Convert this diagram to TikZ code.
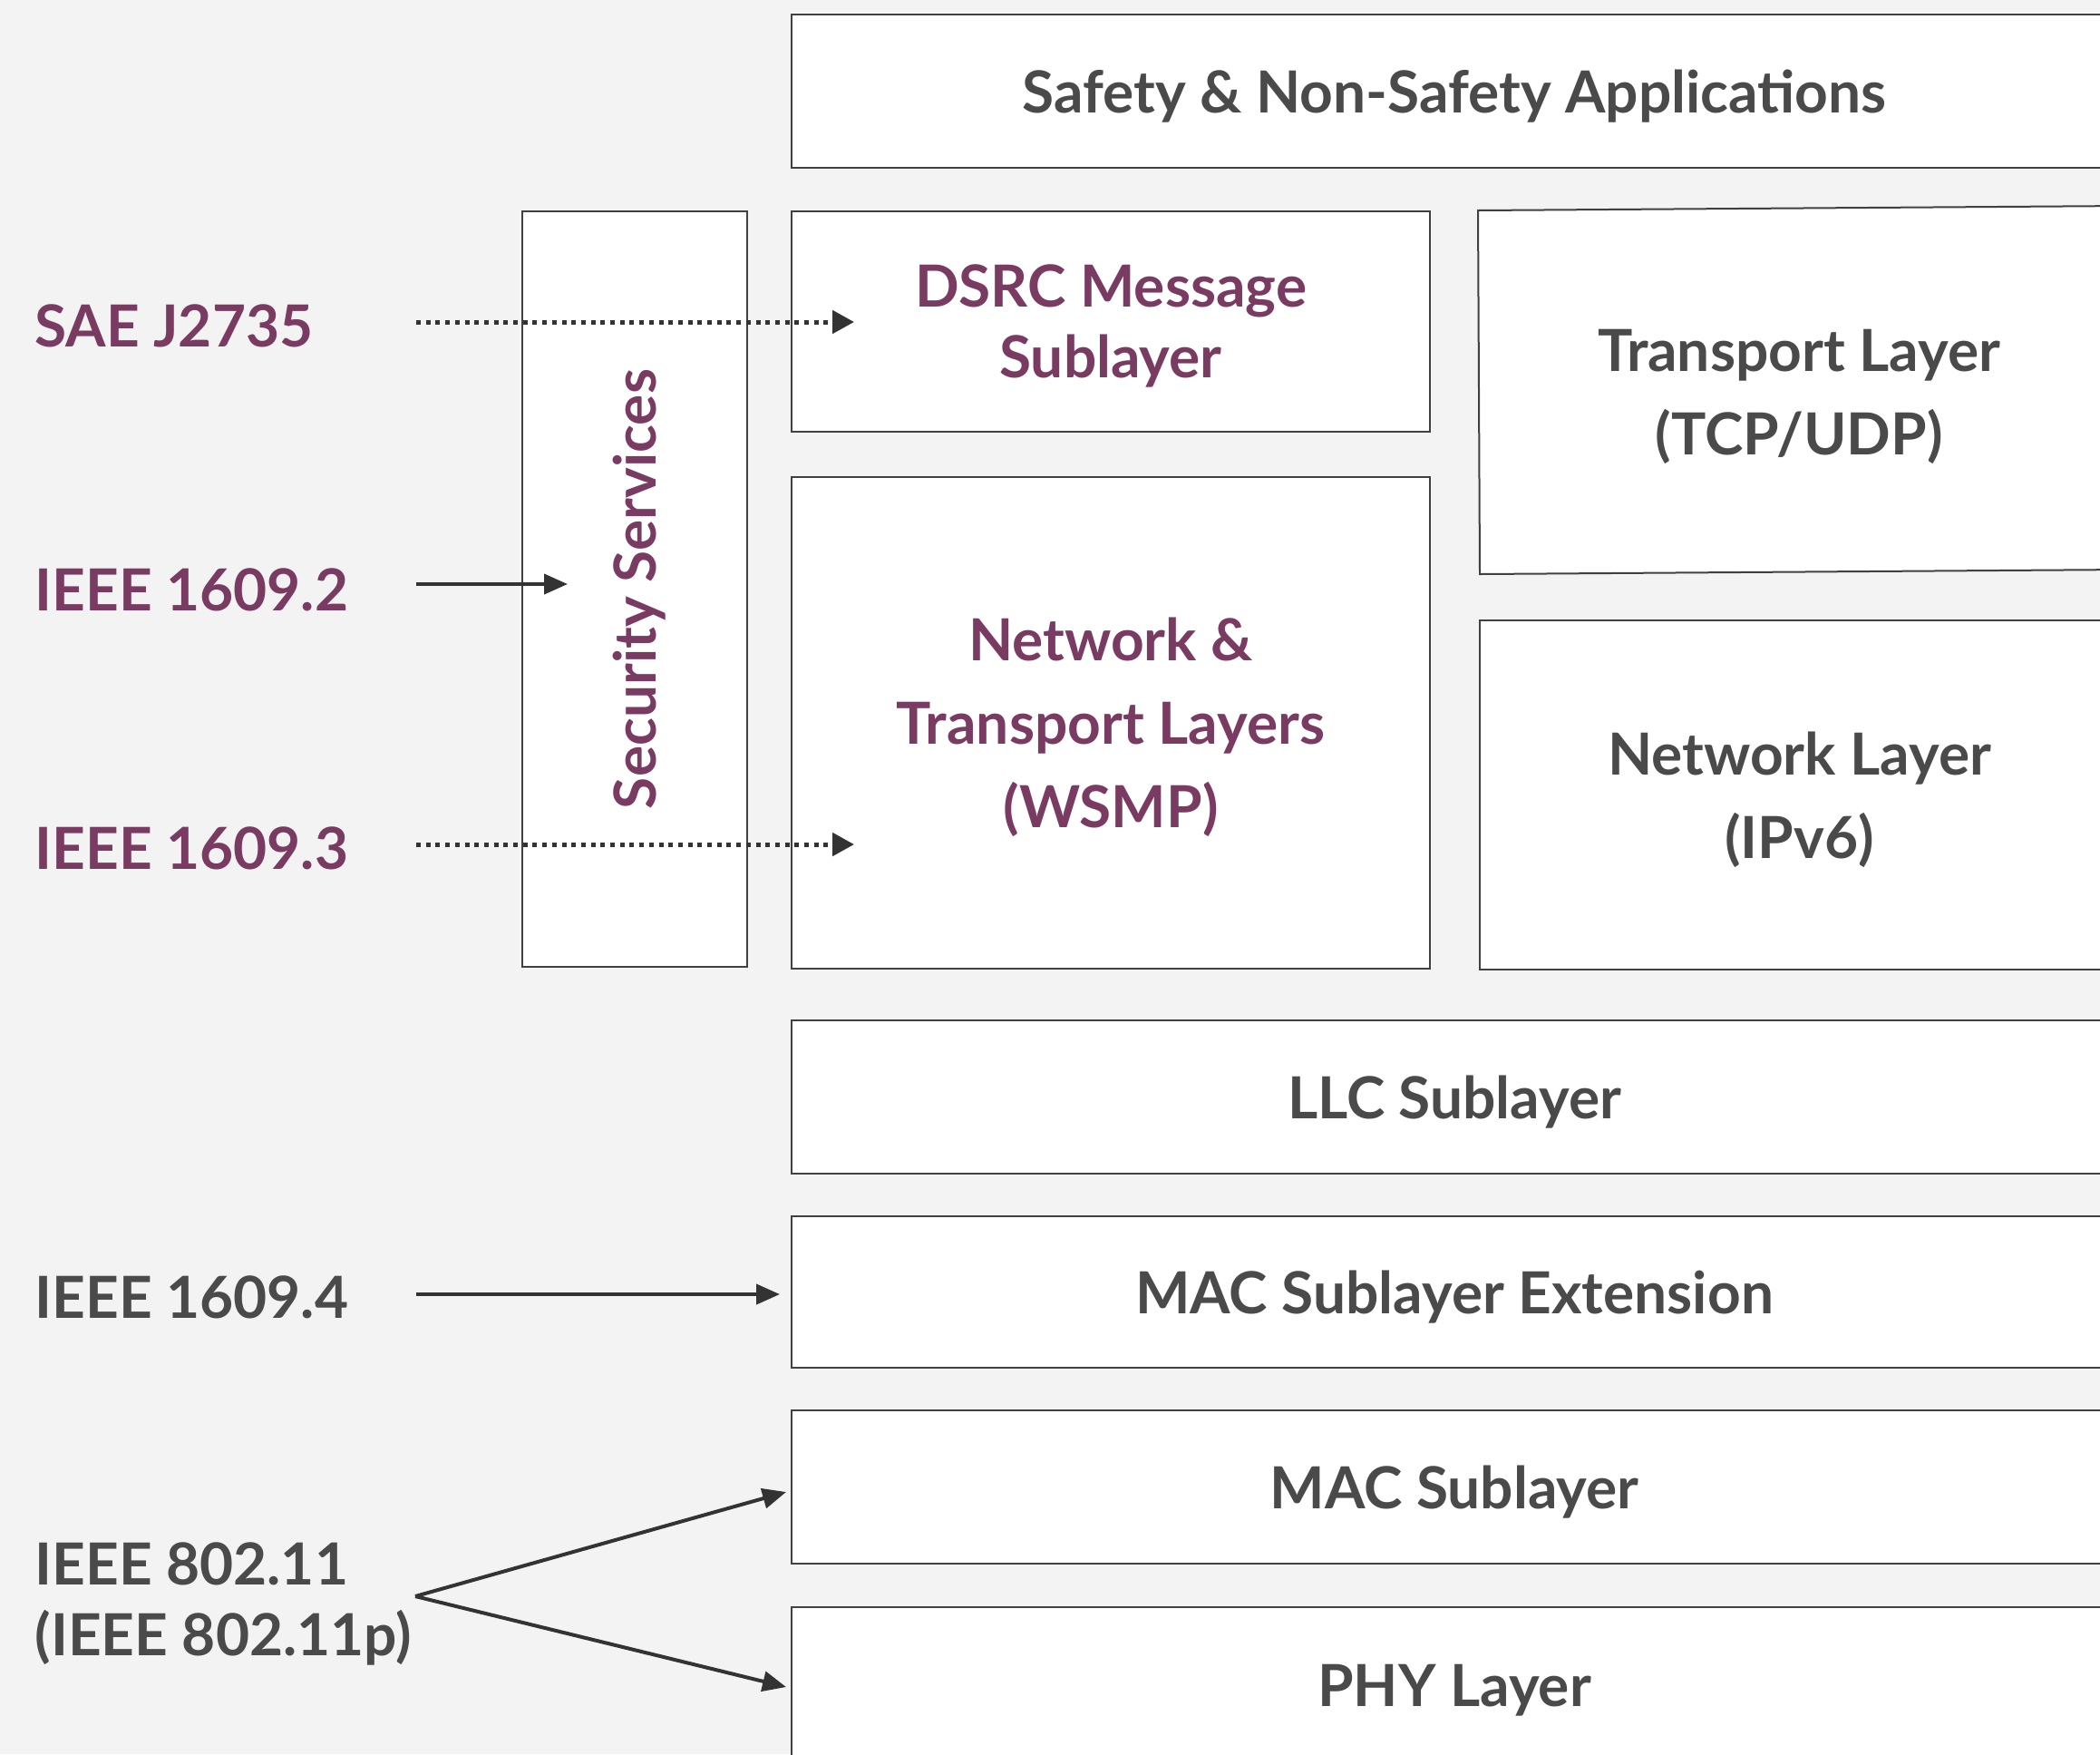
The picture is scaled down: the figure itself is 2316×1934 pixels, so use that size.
\documentclass[tikz,border=0pt]{standalone}
\usepackage{fontspec}
\setmainfont{Lato}
\usetikzlibrary{arrows.meta}
\definecolor{bgcol}{HTML}{F3F3F3}
\definecolor{linecol}{HTML}{404040}
\definecolor{txtgray}{HTML}{4A4A4A}
\definecolor{txtpurple}{HTML}{7A3B63}
\definecolor{arrowcol}{HTML}{333333}
\tikzset{
  layer/.style={draw=linecol, line width=1pt, fill=white, inner sep=0pt,
    text=txtgray, align=center, text depth=0pt,
    font=\fontsize{32}{46}\selectfont\bfseries},
  purpletext/.style={text=txtpurple},
  plain/.style={inner sep=0pt, text=txtgray, align=center, text depth=0pt,
    font=\fontsize{32}{46}\selectfont\bfseries},
  stdlabel/.style={inner sep=0pt, anchor=base west,
    font=\fontsize{32}{39}\selectfont\bfseries},
  solidarrow/.style={draw=arrowcol, line width=2pt,
    -{Triangle[length=13pt,width=11pt]}},
  dotarrow/.style={draw=arrowcol, line width=2.5pt,
    dash pattern=on 2.5pt off 2.85pt,
    -{Triangle[length=12pt,width=12.5pt]}}
}
\begin{document}
\begin{tikzpicture}[x=0.5pt,y=-0.5pt]
  % page and background
  \useasboundingbox (0,0) rectangle (2316,1934);
  \fill[bgcol] (0,0) rectangle (2316,1934);

  % protocol stack
  \node[layer, minimum width=731pt, minimum height=84.5pt] (app) at (1604,100.5)
    {Safety \& Non-Safety Applications};
  \node[layer, purpletext, rotate=90, minimum width=416.5pt, minimum height=124pt]
    (sec) at (700,649.5) {Security Services};
  \node[layer, purpletext, minimum width=352pt, minimum height=121.5pt,
    font=\fontsize{32}{39}\selectfont\bfseries] (dsrc) at (1225,354.5)
    {DSRC Message\\Sublayer};
  \node[layer, purpletext, minimum width=352pt, minimum height=271pt]
    (wsmp) at (1225,797) {Network \&\\Transport Layers\\(WSMP)};
  \filldraw[draw=linecol, fill=white, line width=1pt]
    (1630,232) -- (2345,227) -- (2345,628) -- (1632,633) -- cycle;
  \node[plain] (trans) at (1984,432) {Transport Layer\\(TCP/UDP)};
  \node[layer, minimum width=352.5pt, minimum height=192.5pt]
    (net) at (1984.5,876.5) {Network Layer\\(IPv6)};
  \node[layer, minimum width=731pt, minimum height=84.5pt] (llc) at (1604,1209.5)
    {LLC Sublayer};
  \node[layer, minimum width=731pt, minimum height=83.5pt] (macx) at (1604,1424.5)
    {MAC Sublayer Extension};
  \node[layer, minimum width=731pt, minimum height=84.5pt] (mac) at (1604,1639.5)
    {MAC Sublayer};
  \node[layer, minimum width=731pt, minimum height=86pt] (phy) at (1604,1858)
    {PHY Layer};

  % standards on the left
  \node[stdlabel, text=txtpurple] (sae) at (38,382) {SAE J2735};
  \node[stdlabel, text=txtpurple] (s2) at (38,673) {IEEE 1609.2};
  \node[stdlabel, text=txtpurple] (s3) at (38,958) {IEEE 1609.3};
  \node[stdlabel, text=txtgray] (s4) at (38,1453) {IEEE 1609.4};
  \node[stdlabel, text=txtgray] (s80211) at (38,1747) {IEEE 802.11};
  \node[stdlabel, text=txtgray] (s80211p) at (38,1825) {(IEEE 802.11p)};

  % arrow end points
  \coordinate (saeA) at (459,355);
  \coordinate (saeB) at (942,355);
  \coordinate (s2A) at (459,644);
  \coordinate (s2B) at (626,644);
  \coordinate (s3A) at (459,931);
  \coordinate (s3B) at (942,931);
  \coordinate (s4A) at (459,1427);
  \coordinate (s4B) at (860,1427);
  \coordinate (fork) at (458,1760);
  \coordinate (macIn) at (867,1645);
  \coordinate (phyIn) at (867,1860);

  % arrows
  \draw[dotarrow] (saeA) -- (saeB);
  \draw[solidarrow] (s2A) -- (s2B);
  \draw[dotarrow] (s3A) -- (s3B);
  \draw[solidarrow] (s4A) -- (s4B);
  \draw[solidarrow] (fork) -- (macIn);
  \draw[solidarrow] (fork) -- (phyIn);
\end{tikzpicture}
\end{document}
